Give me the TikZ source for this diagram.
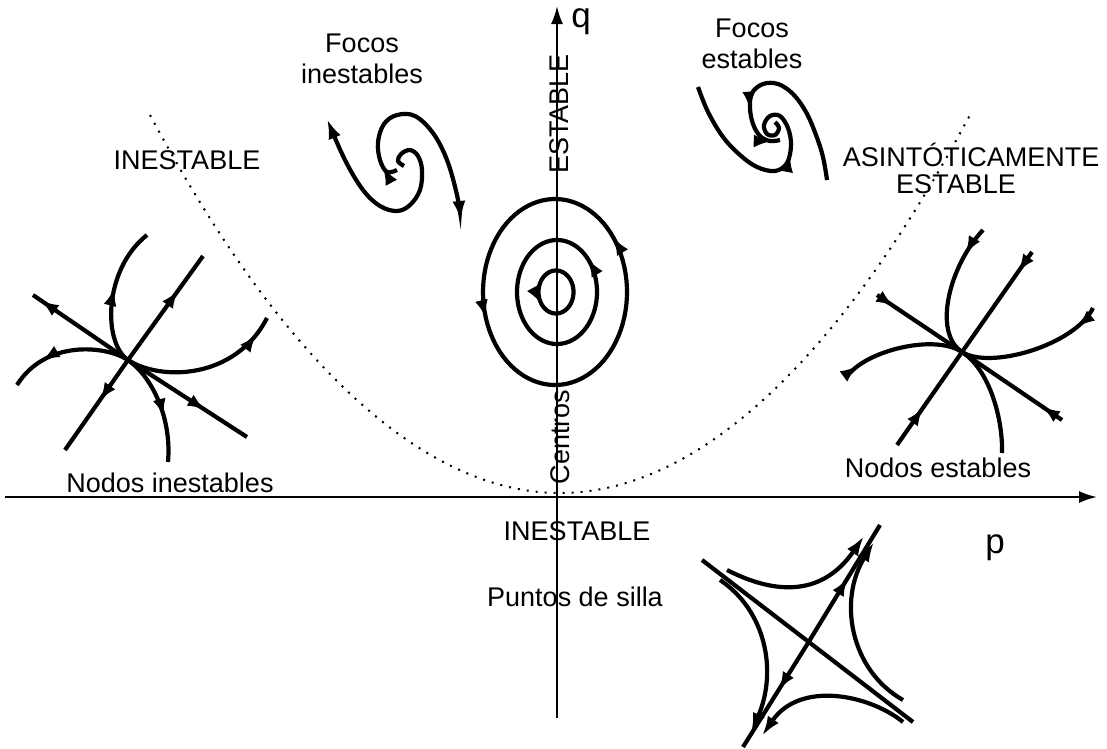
\documentclass[tikz,border=0pt]{standalone}
\usepackage{fontspec}
\setmainfont{Liberation Sans}
\usetikzlibrary{arrows.meta,decorations.markings}
\begin{document}
\begin{tikzpicture}[x=1pt,y=-1pt,
  lbl/.style={font=\fontsize{27}{31}\selectfont, inner sep=0pt, align=center},
  big/.style={font=\fontsize{35}{38}\selectfont, inner sep=0pt},
  traj/.style={line width=4.2pt},
  axis/.style={line width=2.2pt},
  tip/.style={-{Latex[length=18pt,width=12pt]}},
  endtip/.style={-{Latex[length=20pt,width=13pt]}},
  am/.style={postaction={decorate, decoration={markings, mark=at position #1 with {\arrow{Latex[length=18pt,width=13pt]}}}}},
  dots/.style={line width=2pt, dash pattern=on 2pt off 7pt},
  ]
\useasboundingbox (0,0) rectangle (1107,748);
\fill[white] (0,0) rectangle (1107,748);

% axes
\coordinate (pL) at (5,497);
\coordinate (pR) at (1097,497);
\coordinate (qB) at (557,718);
\coordinate (qT) at (557,6);
\draw[axis, tip] (pL) -- (pR);
\draw[axis, tip] (qB) -- (qT);

% dotted parabola
\draw[dots] (150,115) parabola bend (560,493) (970,115);

% labels
\node[big] (q) at (581,22) {q};
\node[big] (p) at (995,548) {p};
\node[lbl] (fi) at (362,59) {Focos\\inestables};
\node[lbl] (fe) at (752,44) {Focos\\estables};
\node[lbl] (inesL) at (187,160) {INESTABLE};
\node[lbl] (asin) at (971,155) {ASINTÓTICAMENTE};
\node[lbl] (asin2) at (956,184) {ESTABLE};
\node[lbl, rotate=90] (est) at (559,114) {ESTABLE};
\node[lbl, rotate=90] (cent) at (560,437) {Centros};
\node[lbl] (inesB) at (577,531) {INESTABLE};
\node[lbl] (silla) at (575,597) {Puntos de silla};
\node[lbl] (ni) at (170,483) {Nodos inestables};
\node[lbl] (ne) at (938,468) {Nodos estables};

% centers
\draw[traj, am=0.11, am=0.55] plot[domain=0:360, samples=91] ({555+72*cos(\x)},{292-93*sin(\x)}) -- cycle;
\draw[traj, am=0.12] plot[domain=0:360, samples=91] ({557+40*cos(\x)},{292-52*sin(\x)}) -- cycle;
\draw[traj, am=0.6] plot[domain=0:360, samples=91] ({556+17.5*cos(\x)},{292-21.5*sin(\x)}) -- cycle;

% unstable focus
\draw[traj, endtip] plot[smooth, tension=0.6] coordinates {(404,166) (398,161) (401,154) (410,150) (418,156) (422,170) (420,190) (410,205) (397,211) (380,206) (363,190) (345,160) (327,119)};
\draw[traj, endtip, am=0.08] plot[smooth, tension=0.6] coordinates {(397,170) (387,172) (380,160) (378,142) (384,124) (397,115) (415,116) (433,133) (447,160) (457,195) (461,221)};

% stable focus
\draw[traj, am=0.6] plot[smooth, tension=0.6] coordinates {(698,87) (708,112) (723,137) (740,155) (757,167) (775,171) (787,163) (791,145) (788,128) (780,116) (770,116) (764,125) (767,134) (775,135) (779,128) (775,122)};
\draw[traj, am=0.76, am=0.96] plot[smooth, tension=0.6] coordinates {(827,180) (823,157) (816,135) (806,112) (793,94) (778,84) (763,84) (752,93) (750,108) (753,124) (760,136) (770,141) (780,140)};

% unstable node
\coordinate (U) at (128,360);
\draw[traj, am=0.67] (U) -- (203,256);
\draw[traj, am=0.45] (U) -- (65,450);
\draw[traj, am=0.92] (U) -- (33,295);
\draw[traj, am=0.65] (U) -- (247,437);
\draw[traj, am=0.55] (U) .. controls (103,343) and (103,270) .. (147,235);
\draw[traj, am=0.88] (U) .. controls (160,381) and (235,380) .. (267,318);
\draw[traj, am=0.6] (U) .. controls (150,375) and (172,415) .. (168,462);
\draw[traj, am=0.72] (U) .. controls (105,345) and (45,340) .. (17,385);

% stable node
\coordinate (S) at (962,352);
\draw[traj, am=0.2] (1032,252) -- (S);
\draw[traj, am=0.4] (897,445) -- (S);
\draw[traj, am=0.2] (877,295) -- (S);
\draw[traj, am=0.2] (1062,420) -- (S);
\draw[traj, am=0.22] (983,230) .. controls (950,265) and (932,332) .. (S);
\draw[traj, am=0.17] (1093,308) .. controls (1075,345) and (990,370) .. (S);
\draw[traj, am=0.09] (850,373) .. controls (870,350) and (935,334) .. (S);
\draw[traj] (1002,453) .. controls (1003,420) and (990,370) .. (S);

% saddle
\coordinate (SD) at (808,643);
\draw[traj] (702,560) -- (913,722);
\draw[traj, am=0.55] (SD) -- (880,525);
\draw[traj, am=0.45] (SD) -- (743,747);
\draw[traj, endtip] (727,570) .. controls (770,592) and (820,600) .. (864,536);
\draw[traj, endtip] (903,700) .. controls (850,670) and (838,600) .. (874,542);
\draw[traj, endtip] (720,580) .. controls (765,610) and (778,670) .. (751,733);
\draw[traj, endtip] (903,722) .. controls (870,695) and (800,680) .. (762,736);
\end{tikzpicture}
\end{document}
